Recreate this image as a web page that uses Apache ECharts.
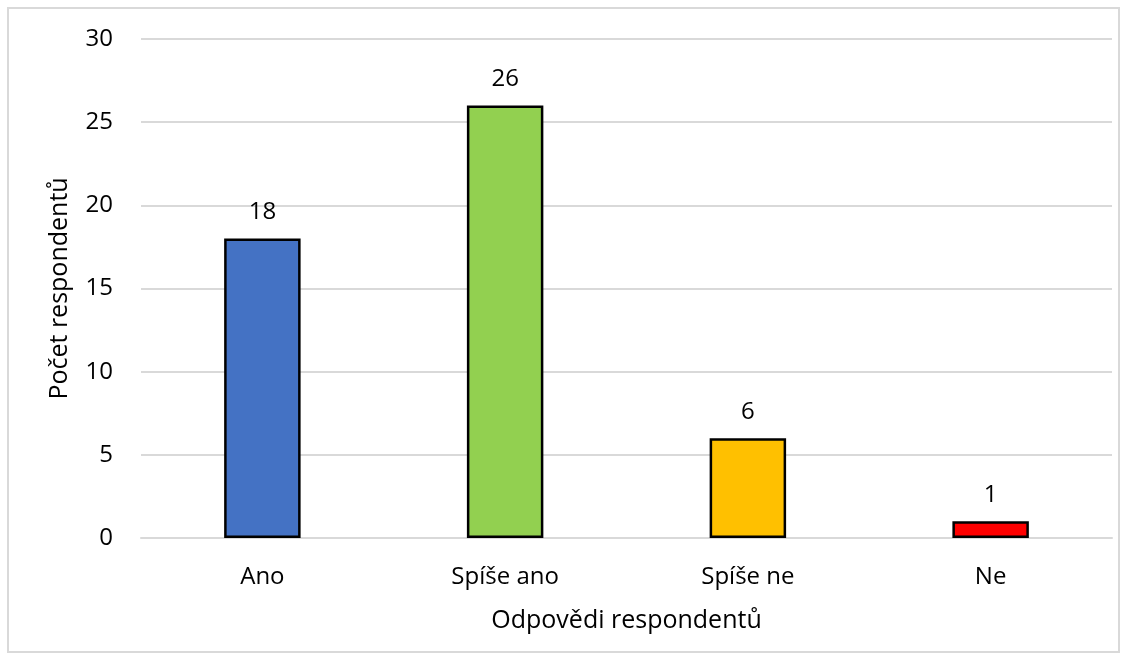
<!DOCTYPE html>
<html>
<head>
<meta charset="utf-8">
<script src="https://cdn.jsdelivr.net/npm/echarts@6/dist/echarts.min.js"></script>
<style>
  html, body { margin: 0; padding: 0; background: #fff; }
  #frame { position: absolute; left: 7px; top: 7px; width: 1113px; height: 646px; border: 2px solid #d9d9d9; box-sizing: border-box; }
  #chart { position: absolute; left: 0; top: 0; width: 1130px; height: 663px; }
</style>
</head>
<body>
<div id="frame"></div>
<div id="chart"></div>
<script>
// Survey answers and respondent counts
const categories = ['Ano', 'Spíše ano', 'Spíše ne', 'Ne'];
const counts = [18, 26, 6, 1];
const barColors = ['#4472C4', '#92D050', '#FFC000', '#FF0000'];
const yTicks = [0, 5, 10, 15, 20, 25, 30];

const font = '"Open Sans", "Noto Sans", sans-serif';
const chart = echarts.init(document.getElementById('chart'), null, { renderer: 'canvas' });

chart.setOption({
  animation: false,
  textStyle: { fontFamily: font },
  grid: { left: 141, right: 18, top: 39, bottom: 125, containLabel: false },
  xAxis: {
    type: 'category',
    data: categories,
    name: 'Odpovědi respondentů',
    nameLocation: 'middle',
    nameGap: 70,
    nameTextStyle: { fontFamily: font, fontSize: 25, color: '#000' },
    axisLine: { show: true, lineStyle: { color: '#d9d9d9', width: 2 } },
    axisTick: { show: false },
    axisLabel: { fontFamily: font, fontSize: 24, color: '#000', margin: 27 }
  },
  yAxis: {
    type: 'value',
    min: yTicks[0],
    max: yTicks[yTicks.length - 1],
    interval: 5,
    name: 'Počet respondentů',
    nameLocation: 'middle',
    nameGap: 69,
    nameTextStyle: { fontFamily: font, fontSize: 25, color: '#000' },
    axisLine: { show: false },
    axisTick: { show: false },
    axisLabel: { fontFamily: font, fontSize: 24, color: '#000', margin: 28 },
    splitLine: { lineStyle: { color: '#d9d9d9', width: 2 } }
  },
  series: [{
    type: 'bar',
    barWidth: '31.5%',
    data: counts.map((v, i) => ({
      value: v,
      itemStyle: { color: barColors[i], borderColor: '#000', borderWidth: 2.5 }
    })),
    label: {
      show: true,
      position: 'top',
      distance: 14,
      fontFamily: font,
      fontSize: 24,
      color: '#000'
    }
  }]
});
</script>
</body>
</html>
